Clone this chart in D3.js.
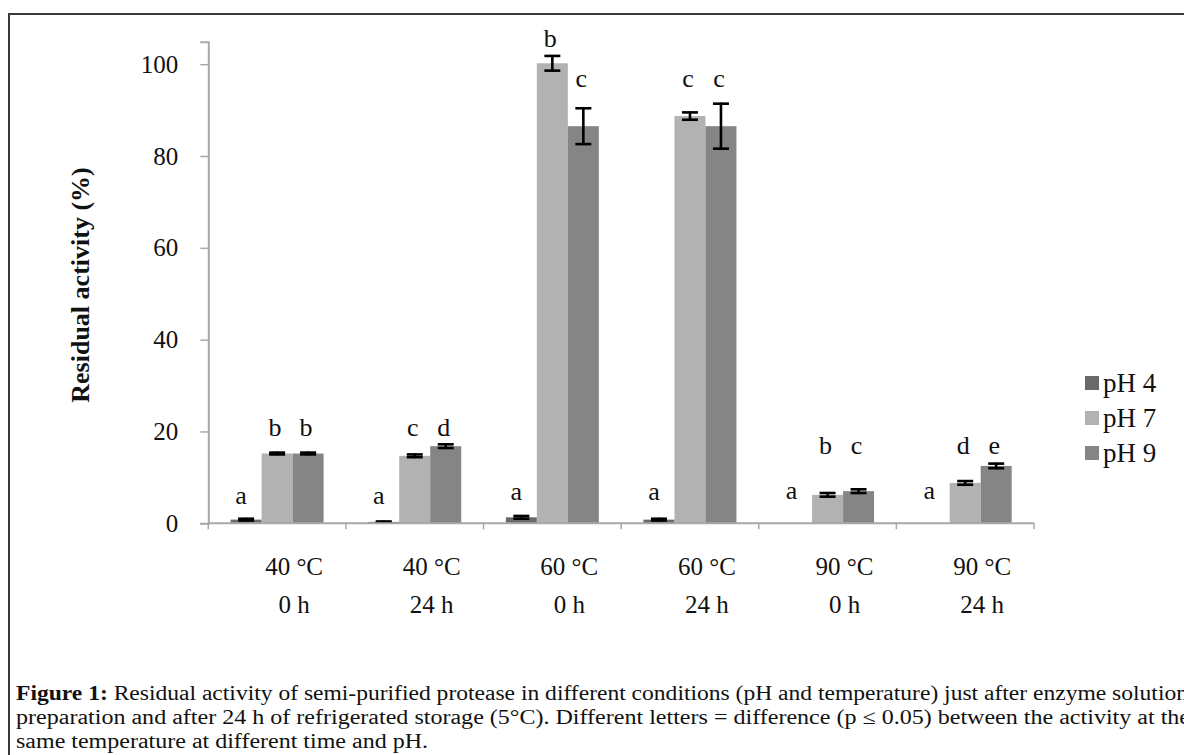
<!DOCTYPE html>
<html><head><meta charset="utf-8">
<script src="https://cdn.jsdelivr.net/npm/d3@7"></script>
<style>body{margin:0;background:#fff}svg{display:block}</style>
</head><body>
<svg id="c" width="1184" height="755"></svg>
<script>
// ---- data ----
const categories = [["40 °C","0 h"],["40 °C","24 h"],["60 °C","0 h"],["60 °C","24 h"],["90 °C","0 h"],["90 °C","24 h"]];
const seriesNames = ["pH 4","pH 7","pH 9"];
const pH4 = [0.8, 0.3, 1.3, 0.8, 0, 0];
const pH7 = [15.2, 14.7, 100.2, 88.7, 6.2, 8.8];
const pH9 = [15.2, 16.8, 86.5, 86.5, 7.0, 12.5];
const err4 = [0.2, 0.1, 0.3, 0.2, 0, 0];
const err7 = [0.2, 0.3, 1.6, 0.8, 0.4, 0.4];
const err9 = [0.2, 0.4, 3.9, 4.9, 0.4, 0.5];
const let4 = ["a","a","a","a","a","a"];
const let7 = ["b","c","b","c","b","d"];
const let9 = ["b","d","c","c","c","e"];
const yTicks = [0, 20, 40, 60, 80, 100];
const yTitle = "Residual activity (%)";
const captionBold = "Figure 1:";
const captionLines = [
  " Residual activity of semi-purified protease in different conditions (pH and temperature) just after enzyme solution",
  "preparation and after 24 h of refrigerated storage (5°C). Different letters = difference (p ≤ 0.05) between the activity at the",
  "same temperature at different time and pH."
];

// ---- layout ----
const colors = ["#696969", "#b2b2b2", "#858585"];
const values = [pH4, pH7, pH9], errs = [err4, err7, err9], letters = [let4, let7, let9];
const letterLevel = [[6.2,21,21],[6.2,21,21],[7.0,105.8,97.1],[7.0,97.1,97.1],[7.2,17.1,17.1],[7.2,17.1,17.1]];

const svg = d3.select("#c");
const serif = "'Liberation Serif','Times New Roman',serif";

// frame
svg.append("rect").attr("x",9).attr("y",14).attr("width",1300).attr("height",900)
  .attr("fill","none").attr("stroke","#3a3a3a").attr("stroke-width",2);

const x0 = d3.scaleBand().domain(d3.range(categories.length)).range([208.3, 1034]).padding(0);
const x1 = d3.scaleBand().domain(d3.range(3)).range([0, x0.bandwidth()]).paddingInner(0).paddingOuter(0.72);
const y = d3.scaleLinear().domain([0, 104.9]).range([523.3, 41.7]);

// y axis
const yAxis = svg.append("g").attr("transform","translate(208.3,0)")
  .call(d3.axisLeft(y).tickValues(yTicks).tickSize(8).tickPadding(22).tickFormat(d3.format("d")));
yAxis.select(".domain").attr("stroke","#a8a8a8").attr("stroke-width",2);
yAxis.selectAll(".tick line").attr("stroke","#a8a8a8").attr("stroke-width",1.5);
yAxis.selectAll(".tick text").attr("font-family",serif).attr("font-size",25).attr("fill","#111");

// bars
const g = svg.append("g");
categories.forEach((c,i)=>{
  values.forEach((vals,s)=>{
    const bx = x0(i)+x1(s);
    g.append("rect").attr("x",bx).attr("y",y(vals[i])).attr("width",x1.bandwidth())
      .attr("height",y(0)-y(vals[i])).attr("fill",colors[s]);
  });
});

// x axis
const xAxis = svg.append("g").attr("transform","translate(0,523.3)");
xAxis.append("line").attr("x1",208.3).attr("x2",1034).attr("stroke","#a8a8a8").attr("stroke-width",2);
d3.range(categories.length+1).forEach(i=>{
  const xx = i<categories.length ? x0(i) : x0(categories.length-1)+x0.bandwidth();
  xAxis.append("line").attr("x1",xx).attr("x2",xx).attr("y1",0).attr("y2",6).attr("stroke","#a8a8a8").attr("stroke-width",1.5);
});

// error bars
categories.forEach((c,i)=>{
  values.forEach((vals,s)=>{
    const e = errs[s][i]; if (!(vals[i]>0)) return;
    const cx = x0(i)+x1(s)+x1.bandwidth()/2;
    const yt = y(vals[i]+e), yb = y(Math.max(0,vals[i]-e));
    const eb = g.append("g").attr("stroke","#000").attr("stroke-width",2.6);
    eb.append("line").attr("x1",cx).attr("x2",cx).attr("y1",yt-1).attr("y2",yb+1);
    eb.append("line").attr("x1",cx-8).attr("x2",cx+8).attr("y1",yt).attr("y2",yt);
    eb.append("line").attr("x1",cx-8).attr("x2",cx+8).attr("y1",yb).attr("y2",yb);
  });
});

// letters
categories.forEach((c,i)=>{
  letters.forEach((ls,s)=>{
    const cx = x0(i)+x1(s)+x1.bandwidth()/2 - (s===0?5:2);
    svg.append("text").attr("x",cx).attr("y",y(letterLevel[i][s])).attr("dy","0.35em")
      .attr("text-anchor","middle").attr("font-family",serif).attr("font-size",26).attr("fill","#111")
      .text(ls[i]);
  });
});

// category labels
categories.forEach((c,i)=>{
  const cx = x0(i)+x0.bandwidth()/2+17;
  svg.append("text").attr("x",cx).attr("y",575).attr("text-anchor","middle")
    .attr("font-family",serif).attr("font-size",25).attr("fill","#111").text(c[0]);
  svg.append("text").attr("x",cx).attr("y",613).attr("text-anchor","middle")
    .attr("font-family",serif).attr("font-size",25).attr("fill","#111").text(c[1]);
});

// y title
svg.append("text").attr("transform","translate(89,285) rotate(-90)").attr("text-anchor","middle")
  .attr("font-family",serif).attr("font-weight","bold").attr("font-size",26).attr("fill","#111").text(yTitle);

// legend
const lg = svg.append("g");
seriesNames.forEach((n,s)=>{
  const ly = 383 + s*35;
  lg.append("rect").attr("x",1085).attr("y",ly-7).attr("width",14).attr("height",14).attr("fill",colors[s]);
  lg.append("text").attr("x",1103).attr("y",ly).attr("dy","0.35em").attr("font-family",serif)
    .attr("font-size",27).attr("fill","#111").text(n);
});

// caption
const cap = svg.append("g").attr("font-family",serif).attr("font-size",20.5).attr("fill","#111");
const t1 = cap.append("text").attr("x",16).attr("y",700).attr("textLength",1172).attr("lengthAdjust","spacingAndGlyphs");
t1.append("tspan").attr("font-weight","bold").text(captionBold);
t1.append("tspan").text(captionLines[0]);
cap.append("text").attr("x",16).attr("y",724).attr("textLength",1174).attr("lengthAdjust","spacingAndGlyphs").text(captionLines[1]);
cap.append("text").attr("x",16).attr("y",748).attr("textLength",412).attr("lengthAdjust","spacingAndGlyphs").text(captionLines[2]);
</script>
</body></html>
